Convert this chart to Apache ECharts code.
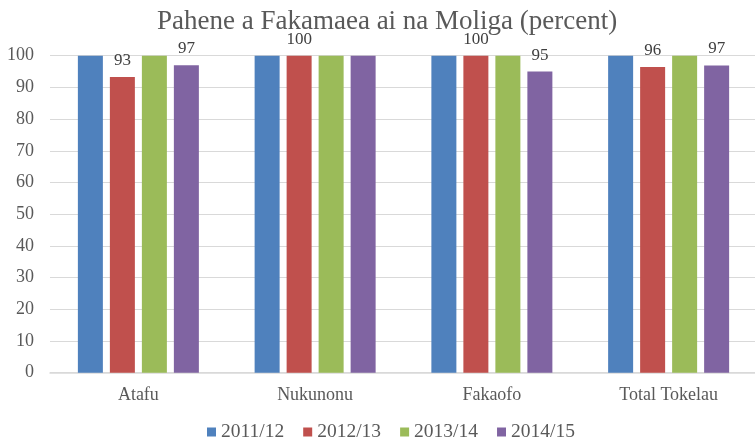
<!DOCTYPE html>
<html>
<head>
<meta charset="utf-8">
<script src="https://cdn.jsdelivr.net/npm/echarts@6/dist/echarts.min.js"></script>
<style>
  html, body { margin: 0; padding: 0; background: #fff; }
  #chart { width: 755px; height: 444px; }
</style>
</head>
<body>
<div id="chart"></div>
<script>
// 类目
const categories = ['Atafu', 'Nukunonu', 'Fakaofo', 'Total Tokelau']
// 年份
const years = ['2011/12', '2012/13', '2013/14', '2014/15']
// 每个年份的数值（按类目）
const v2011 = [100, 100, 100, 100]
const v2012 = [93.3, 100, 100, 96.4]
const v2013 = [100, 100, 100, 100]
const v2014 = [97, 100, 95, 96.9]
// 哪些柱子显示数值
const show2011 = [false, false, false, false]
const show2012 = [true, true, true, true]
const show2013 = [false, false, false, false]
const show2014 = [true, false, true, true]

const colors = ['#4F81BD', '#C0504D', '#9BBB59', '#8064A2']
const font = '"Liberation Serif", "Times New Roman", serif'

const allValues = [v2011, v2012, v2013, v2014]
const allShow = [show2011, show2012, show2013, show2014]

const chart = echarts.init(document.getElementById('chart'))

const series = years.map((name, i) => ({
  name,
  type: 'bar',
  barWidth: 25,
  barGap: '28%',
  itemStyle: { color: colors[i] },
  label: {
    position: 'top',
    distance: 8,
    fontFamily: font,
    fontSize: 17,
    color: '#404040',
    formatter: p => Math.round(p.value)
  },
  data: allValues[i].map((v, j) => ({ value: v, label: { show: allShow[i][j] } }))
}))

const option = {
  animation: false,
  title: {
    text: 'Pahene a Fakamaea ai na Moliga (percent)',
    left: 152,
    top: 3,
    textStyle: {
      fontFamily: font,
      fontSize: 27,
      fontWeight: 'normal',
      color: '#595959'
    }
  },
  legend: {
    data: years,
    left: 202,
    top: 417,
    icon: 'rect',
    itemWidth: 9,
    itemHeight: 9,
    itemGap: 19,
    textStyle: {
      fontFamily: font,
      fontSize: 19.5,
      color: '#595959'
    }
  },
  grid: {
    left: 50,
    top: 55.7,
    width: 707,
    height: 317,
    outerBoundsMode: 'none'
  },
  xAxis: {
    type: 'category',
    data: categories,
    axisTick: { show: false },
    axisLine: { lineStyle: { color: '#d9d9d9', width: 1.5 } },
    axisLabel: {
      margin: 14,
      fontFamily: font,
      fontSize: 18,
      color: '#595959'
    }
  },
  yAxis: {
    type: 'value',
    min: 0,
    max: 100,
    interval: 10,
    axisLine: { show: false },
    axisTick: { show: false },
    splitLine: { lineStyle: { color: '#d9d9d9' } },
    axisLabel: {
      margin: 16,
      fontFamily: font,
      fontSize: 18,
      color: '#595959'
    }
  },
  series
}

chart.setOption(option)
</script>
</body>
</html>
